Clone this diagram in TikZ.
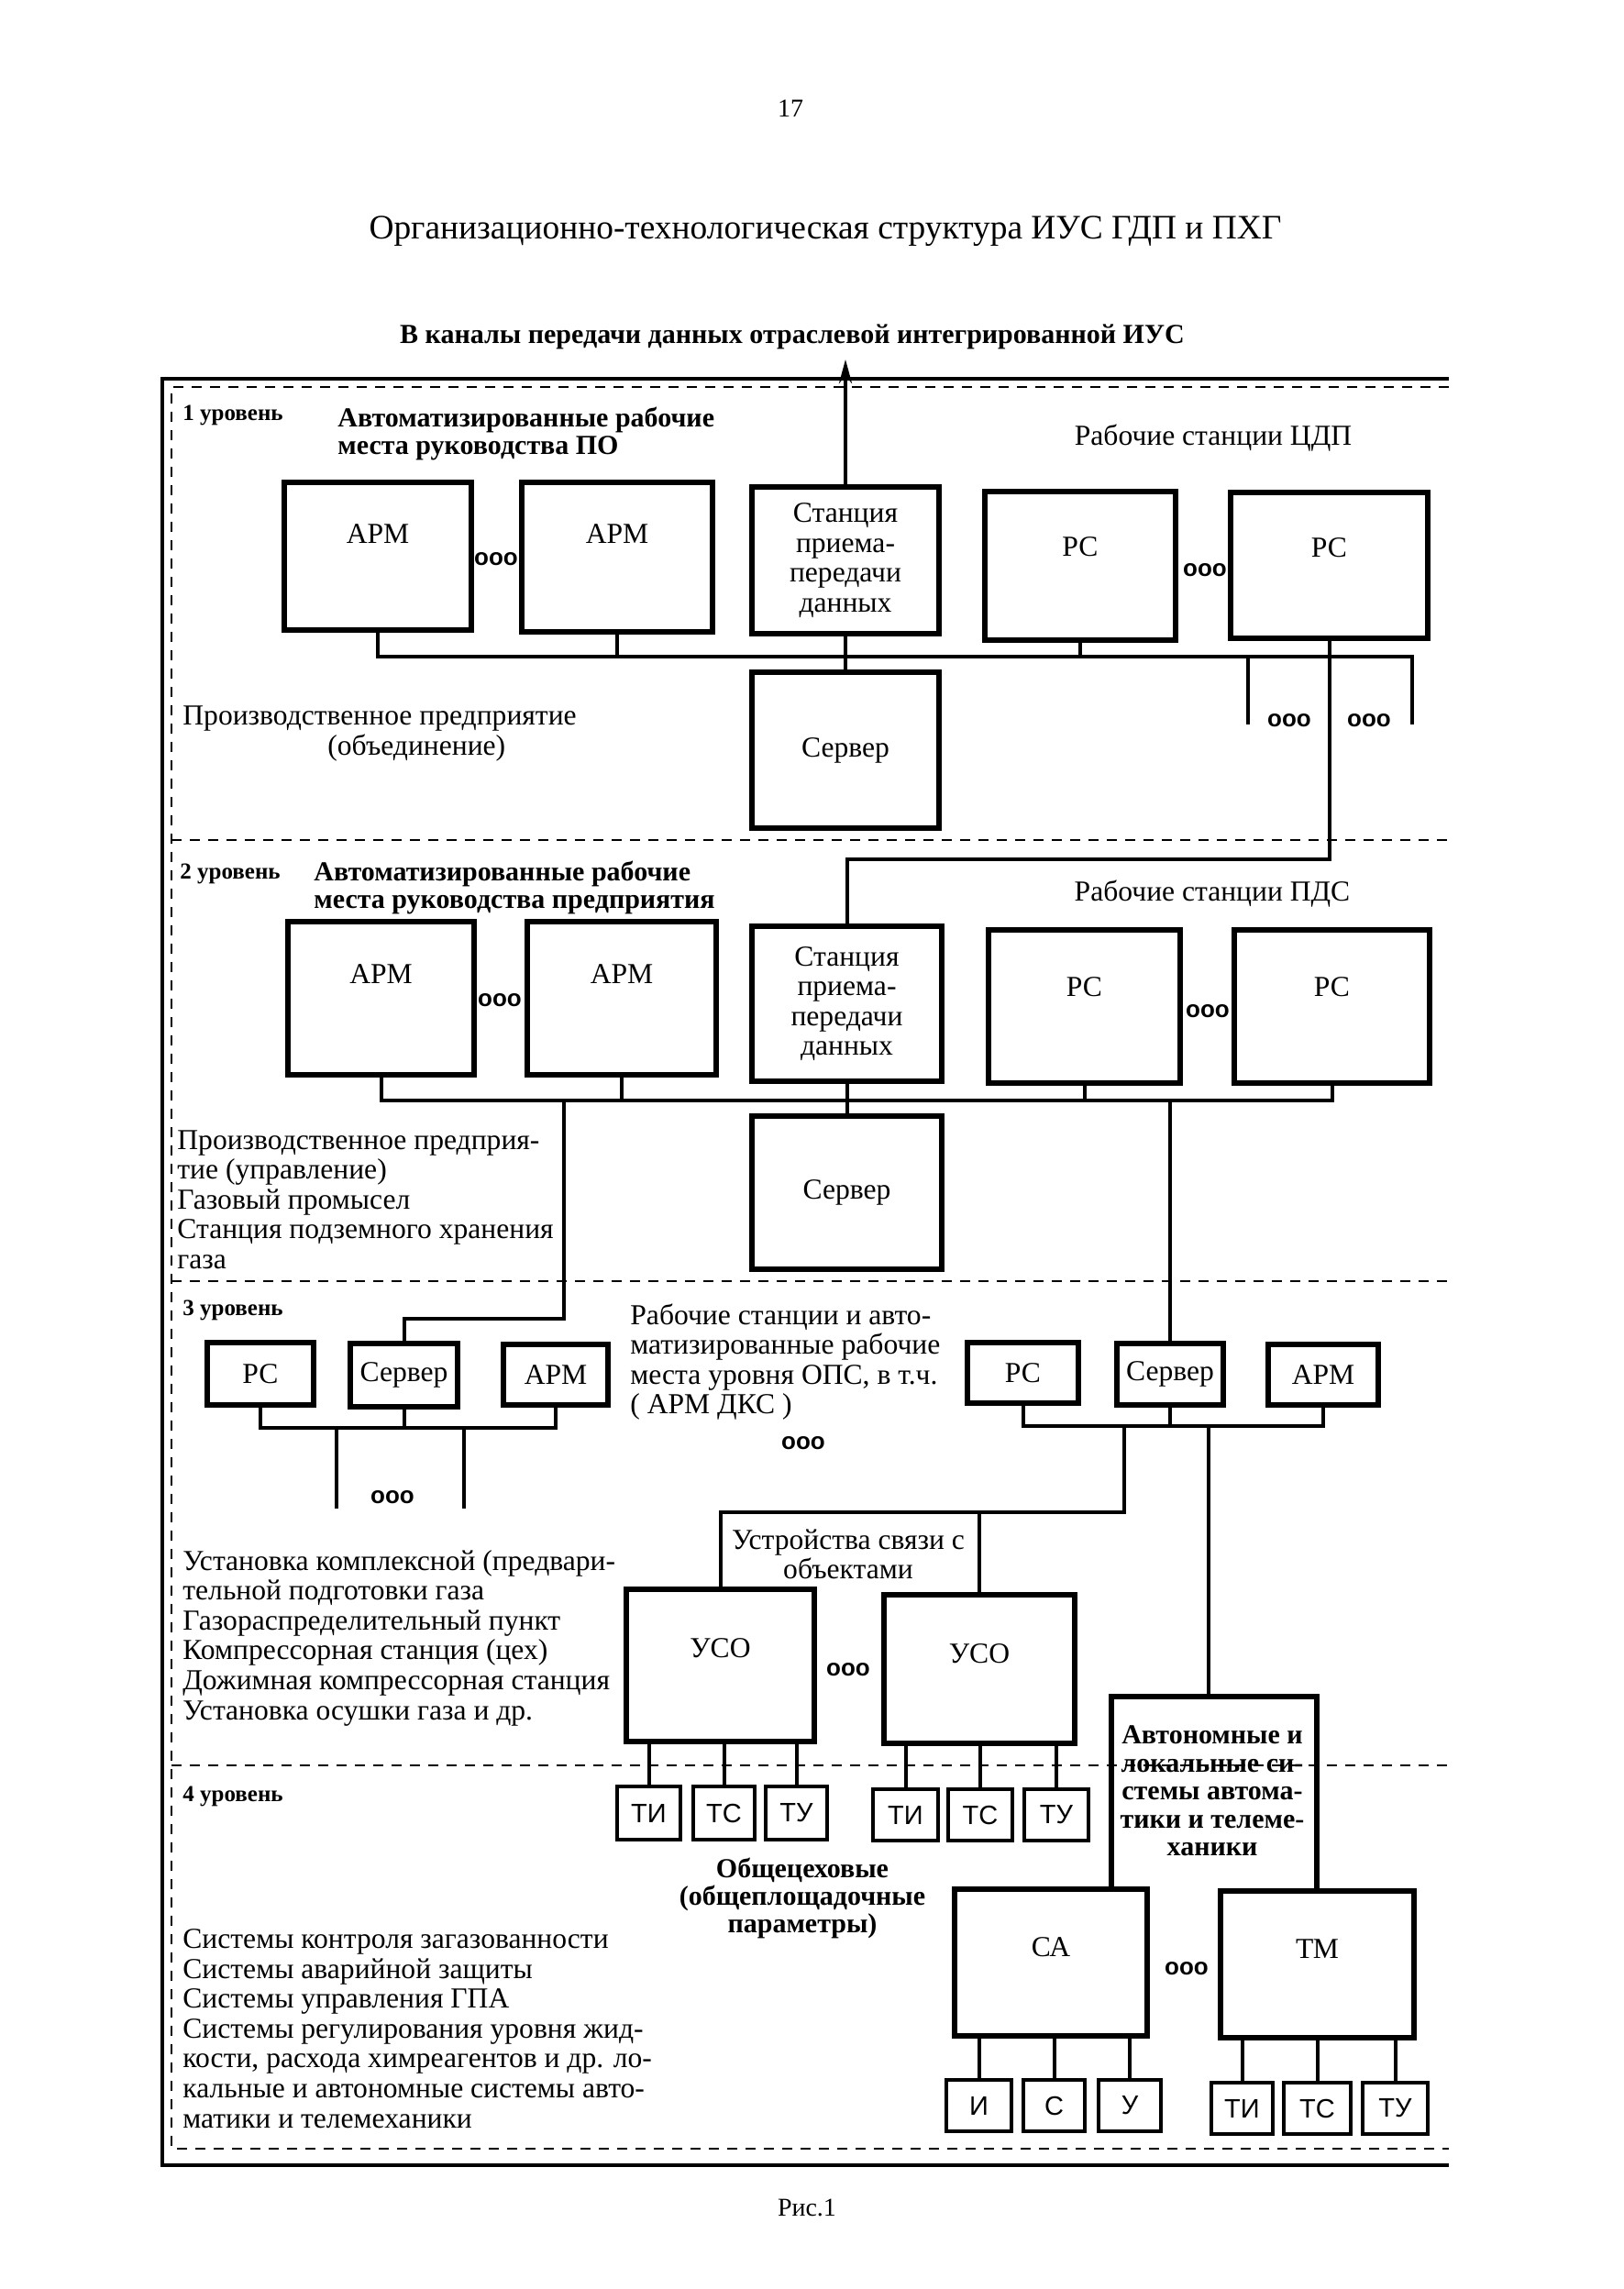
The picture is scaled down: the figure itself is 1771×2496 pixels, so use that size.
\documentclass[tikz,border=0pt]{standalone}
\usepackage{fontspec}
\setmainfont{Liberation Serif}
\newfontfamily\sansf{Liberation Sans}
\usetikzlibrary{arrows.meta}
\newcommand\bodyfont{\fontsize{15.8}{16.3}\selectfont}
\newcommand\bodyfontb{\bfseries\fontsize{15}{15.2}\selectfont}
\newcommand\bx[7][]{\node[box,#1,minimum width={(#5-#3)*0.5pt},minimum height={(#6-#4)*0.5pt}] (#2) at ({(#3+#5)/2},{(#4+#6)/2}) {#7};}
\begin{document}
\begin{tikzpicture}[x=0.5pt,y=-0.5pt,
  box/.style={draw, line width=2.6pt, inner sep=0pt, align=center, font=\bodyfont},
  sbox/.style={line width=2.4pt, font=\sansf\fontsize{14.5}{15}\selectfont},
  boxline/.style={line width=2.6pt},
  conn/.style={line width=2pt},
  frameline/.style={line width=1.7pt},
  dline/.style={line width=0.9pt, dash pattern=on 5.5pt off 4.5pt},
  txt/.style={inner sep=0pt, font=\bodyfont, align=left},
  btxt/.style={inner sep=0pt, font=\bodyfontb, align=left},
  dots/.style={inner sep=0pt, font=\sansf\bfseries\fontsize{13}{13}\selectfont},
  lvl/.style={inner sep=0pt, font=\bfseries\fontsize{12.5}{13}\selectfont, anchor=west},
  lab/.style={anchor=center, yshift=-#1, font=\bodyfont, inner sep=0pt}
]
\useasboundingbox (0,0) rectangle (1771,2496);
\fill[white] (0,0) rectangle (1771,2496);

% header
\node[inner sep=0pt, font=\fontsize{14}{14}\selectfont] (pnum) at (862,118) {17};
\node[inner sep=0pt, font=\fontsize{18.7}{19}\selectfont] (title) at (900,252) {Организационно-технологическая структура ИУС ГДП и ПХГ};
\node[inner sep=0pt, font=\bfseries\fontsize{15}{15}\selectfont] (sub) at (864,367) {В каналы передачи данных отраслевой интегрированной ИУС};

% frames
\coordinate (fTL) at (177,413); \coordinate (fTR) at (1580,413);
\coordinate (fBL) at (177,2361); \coordinate (fBR) at (1580,2361);
\draw[frameline] (fTR) -- (fTL) -- (fBL) -- (fBR);
\coordinate (dTL) at (187,422); \coordinate (dTR) at (1580,422);
\coordinate (dBL) at (187,2343); \coordinate (dBR) at (1580,2343);
\draw[dline] (dTR) -- (dTL) -- (dBL) -- (dBR);
\draw[dline] (187,916) -- (1580,916);
\draw[dline] (187,1397) -- (1580,1397);
\draw[dline] (187,1925) -- (1580,1925);

% ---------- level 1
\node[lvl] (l1) at (199,453) {1 уровень};
\node[btxt, anchor=west] (h1) at (368,473) {Автоматизированные рабочие\\места руководства ПО};
\node[txt] (r1) at (1323,478) {Рабочие станции ЦДП};
\bx[label={[lab=29.5pt]north:АРМ}]{apm1}{310}{526}{514}{687}{}
\bx[label={[lab=29.5pt]north:АРМ}]{apm2}{569}{526}{777}{689}{}
\bx{st1}{820}{531}{1024}{691}{Станция\\приема-\\передачи\\данных}
\bx[label={[lab=31.5pt]north:РС}]{pc1}{1074}{536}{1282}{698}{}
\bx[label={[lab=31.5pt]north:РС}]{pc2}{1342}{537}{1557}{696}{}
\bx{srv1}{820}{733}{1024}{903}{Сервер}
\node[dots] (d1) at (541,610) {ooo};
\node[dots] (d2) at (1314,622) {ooo};
\node[dots] (d3) at (1406,786) {ooo};
\node[dots] (d4) at (1493,786) {ooo};
\node[txt, anchor=west] (p1) at (199,800) {Производственное предприятие\\\hspace*{79pt}(объединение)};

\coordinate (uptip) at (922,392);
\draw[conn, -{Stealth[length=13pt,width=7pt]}] (st1.north) -- (uptip);
\coordinate (b1L) at (412,716); \coordinate (b1R) at (1540,716);
\coordinate (s1b) at (1540,790);
\draw[conn] (apm1.south) -- (b1L) -- (b1R) -- (s1b);
\draw[conn] (apm2.south) -- (apm2.south |- b1L);
\draw[conn] (st1.south) -- (srv1.north);
\draw[conn] (pc1.south) -- (pc1.south |- b1L);
\coordinate (s2t) at (1361,716); \coordinate (s2b) at (1361,790);
\draw[conn] (s2t) -- (s2b);

% ---------- level 2
\node[lvl] (l2) at (196,953) {2 уровень};
\node[btxt, anchor=west] (h2) at (342,968) {Автоматизированные рабочие\\места руководства предприятия};
\node[txt] (r2) at (1322,975) {Рабочие станции ПДС};
\bx[label={[lab=30pt]north:АРМ}]{apm3}{314}{1005}{517}{1172}{}
\bx[label={[lab=30pt]north:АРМ}]{apm4}{575}{1005}{781}{1172}{}
\bx{st2}{820}{1010}{1027}{1179}{Станция\\приема-\\передачи\\данных}
\bx[label={[lab=32.5pt]north:РС}]{pc3}{1078}{1014}{1287}{1181}{}
\bx[label={[lab=32.5pt]north:РС}]{pc4}{1346}{1014}{1559}{1181}{}
\bx{srv2}{820}{1217}{1027}{1384}{Сервер}
\node[dots] (d5) at (545,1091) {ooo};
\node[dots] (d6) at (1317,1103) {ooo};
\node[txt, anchor=west] (p2) at (193,1308) {Производственное предприя-\\тие (управление)\\Газовый промысел\\Станция подземного хранения\\газа};

\coordinate (k1) at (1450,937);
\draw[conn] (pc2.south) -- (pc2.south |- k1) -| (st2.north);
\coordinate (b2L) at (415,1200);
\draw[conn] (apm3.south) -- (apm3.south |- b2L) -- (pc4.south |- b2L) -- (pc4.south);
\draw[conn] (apm4.south) -- (apm4.south |- b2L);
\draw[conn] (st2.south) -- (srv2.north);
\draw[conn] (pc3.south) -- (pc3.south |- b2L);

% ---------- level 3
\node[lvl] (l3) at (199,1429) {3 уровень};
\bx{pcL}{226}{1464}{342}{1532}{РС}
\bx{srvL}{382}{1465}{499}{1534}{Сервер}
\bx{apmL}{549}{1466}{663}{1532}{АРМ}
\bx{pcR}{1055}{1464}{1176}{1530}{РС}
\bx{srvR}{1218}{1465}{1334}{1532}{Сервер}
\bx{apmR}{1383}{1466}{1503}{1532}{АРМ}
\node[txt, anchor=west] (t3) at (687,1485) {Рабочие станции и авто-\\матизированные рабочие\\места уровня ОПС, в т.ч.\\( АРМ ДКС )};
\node[dots] (d7) at (428,1633) {ooo};
\node[dots] (d8) at (876,1574) {ooo};

\coordinate (a1) at (615,1200); \coordinate (a2) at (615,1438);
\draw[conn] (a1) -- (a2) -| (srvL.north);
\draw[conn] (srvR.north |- b2L) -- (srvR.north);

\coordinate (b3L) at (284,1557);
\draw[conn] (pcL.south) -- (pcL.south |- b3L) -- (apmL.south |- b3L) -- (apmL.south);
\draw[conn] (srvL.south) -- (srvL.south |- b3L);
\coordinate (f1t) at (367,1557); \coordinate (f1b) at (367,1645);
\coordinate (f2t) at (506,1557); \coordinate (f2b) at (506,1645);
\draw[conn] (f1t) -- (f1b);
\draw[conn] (f2t) -- (f2b);

\coordinate (b3R) at (1115,1555);
\draw[conn] (pcR.south) -- (pcR.south |- b3R) -- (apmR.south |- b3R) -- (apmR.south);
\draw[conn] (srvR.south) -- (srvR.south |- b3R);

\node[txt, anchor=west] (p3) at (199,1786) {Установка комплексной (предвари-\\тельной подготовки газа\\Газораспределительный пункт\\Компрессорная станция (цех)\\Дожимная компрессорная станция\\Установка осушки газа и др.};
\node[txt, align=center] (usv) at (925,1695) {Устройства связи с\\объектами};

\bx[label={[lab=33.5pt]north:УСО}]{uso1}{683}{1733}{888}{1899}{}
\bx[label={[lab=33.5pt]north:УСО}]{uso2}{964}{1739}{1172}{1901}{}
\node[dots] (d9) at (925,1821) {ooo};

\coordinate (c1) at (1226,1555); \coordinate (c2) at (1226,1649);
\draw[conn] (c1) -- (c2) -| (uso1.north);
\draw[conn] (uso2.north) -- (uso2.north |- c2);

\bx[sbox]{ti1}{673}{1948}{742}{2006}{ТИ}
\bx[sbox]{tc1}{756}{1948}{823}{2006}{ТС}
\bx[sbox]{tu1}{835}{1948}{902}{2006}{ТУ}
\bx[sbox]{ti2}{952}{1951}{1023}{2007}{ТИ}
\bx[sbox]{tc2}{1034}{1951}{1104}{2007}{ТС}
\bx[sbox]{tu2}{1117}{1951}{1187}{2007}{ТУ}
\foreach \n in {ti1,tc1,tu1} \draw[conn] (uso1.south -| \n.north) -- (\n.north);
\foreach \n in {ti2,tc2,tu2} \draw[conn] (uso2.south -| \n.north) -- (\n.north);

% autonomous systems
\coordinate (avtTL) at (1212,1850); \coordinate (avtTR) at (1436,1850);
\coordinate (g1) at (1318,1555);
\node[btxt, align=center] (avt) at (1322,1953) {Автономные и\\локальные си-\\стемы автома-\\тики и телеме-\\ханики};

% ---------- level 4
\node[lvl] (l4) at (199,1959) {4 уровень};
\node[btxt, align=center] (ob) at (875,2070) {Общецеховые\\(общеплощадочные\\параметры)};
\bx[label={[lab=33pt]north:СА}]{ca}{1041}{2060}{1251}{2220}{}
\bx[label={[lab=33pt]north:ТМ}]{tm}{1331}{2062}{1542}{2222}{}
\node[dots] (d10) at (1294,2147) {ooo};
\draw[conn] (g1) -- (g1 |- avtTL);
\draw[boxline] (ca.north -| avtTL) -- (avtTL) -- (avtTR) -- (tm.north -| avtTR);

\bx[sbox]{i3}{1032}{2268}{1103}{2324}{И}
\bx[sbox]{s3}{1116}{2268}{1183}{2324}{С}
\bx[sbox]{u3}{1198}{2268}{1266}{2324}{У}
\bx[sbox]{ti4}{1321}{2271}{1388}{2327}{ТИ}
\bx[sbox]{tc4}{1400}{2271}{1473}{2327}{ТС}
\bx[sbox]{tu4}{1486}{2271}{1557}{2327}{ТУ}
\foreach \n in {i3,s3,u3} \draw[conn] (ca.south -| \n.north) -- (\n.north);
\foreach \n in {ti4,tc4,tu4} \draw[conn] (tm.south -| \n.north) -- (\n.north);

\node[txt, anchor=west] (p4) at (199,2212) {Системы контроля загазованности\\Системы аварийной защиты\\Системы управления ГПА\\Системы регулирования уровня жид-\\кости, расхода химреагентов и др. ло-\\кальные и автономные системы авто-\\матики и телемеханики};

\node[inner sep=0pt, font=\fontsize{14}{14}\selectfont] (fig) at (880,2407) {Рис.1};
\end{tikzpicture}
\end{document}
